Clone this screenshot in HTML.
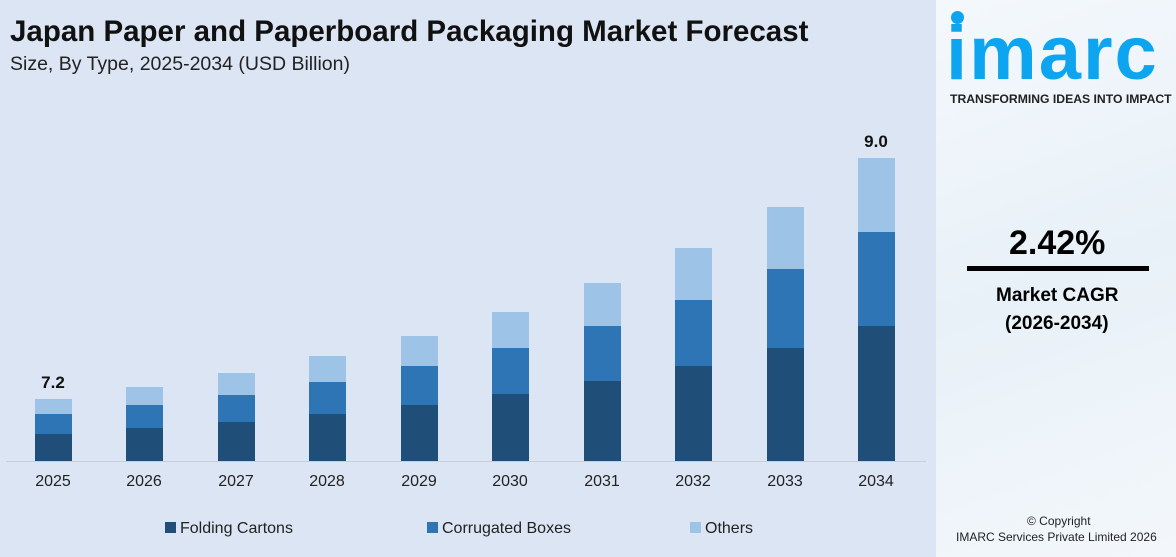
<!DOCTYPE html>
<html><head><meta charset="utf-8"><style>
body{margin:0;width:1176px;height:557px;overflow:hidden;font-family:"Liberation Sans",sans-serif;background:#dce5f3;position:relative}
.t{position:absolute;white-space:nowrap}
.bar{position:absolute;width:37px}
</style></head><body>
<div class="t" style="left:10px;top:15px;font-size:29.5px;font-weight:bold;color:#111">Japan Paper and Paperboard Packaging Market Forecast</div>
<div class="t" style="left:10px;top:53px;font-size:19.5px;color:#222">Size, By Type, 2025-2034 (USD Billion)</div>
<div style="position:absolute;left:6px;top:461px;width:920px;height:1px;background:#c8cfdb"></div>
<div id="bars"></div>
<div class="t" style="left:165px;top:520px;font-size:16px;color:#222"><span style="display:inline-block;width:11px;height:11px;background:#1f4e79;margin-right:4px"></span>Folding Cartons</div>
<div class="t" style="left:427px;top:520px;font-size:16px;color:#222"><span style="display:inline-block;width:11px;height:11px;background:#2e75b6;margin-right:4px"></span>Corrugated Boxes</div>
<div class="t" style="left:690px;top:520px;font-size:16px;color:#222"><span style="display:inline-block;width:11px;height:11px;background:#9dc3e6;margin-right:4px"></span>Others</div>
<div style="position:absolute;left:936px;top:0;width:240px;height:557px;background:linear-gradient(160deg,#f4f8fc,#e8f1f8 50%,#f3f7fb)"></div>
<div style="position:absolute;left:951px;top:11px;width:13px;height:13px;border-radius:50%;background:#0ea5f0"></div>
<div class="t" style="left:946px;top:14px;font-size:76px;font-weight:bold;color:#0ea5f0;letter-spacing:2px;line-height:80px">imarc</div>
<div class="t" style="left:950px;top:92px;font-size:12.2px;font-weight:bold;color:#222">TRANSFORMING IDEAS INTO IMPACT</div>
<div class="t" style="left:1009px;top:224px;font-size:34px;font-weight:bold;color:#000">2.42%</div>
<div style="position:absolute;left:967px;top:266px;width:182px;height:5px;background:#000"></div>
<div class="t" style="left:996px;top:285px;font-size:19px;font-weight:bold;color:#000">Market CAGR</div>
<div class="t" style="left:1005px;top:313px;font-size:19px;font-weight:bold;color:#000">(2026-2034)</div>
<div class="t" style="left:1027px;top:514px;font-size:12px;color:#222">© Copyright</div>
<div class="t" style="left:956px;top:530px;font-size:12px;color:#222">IMARC Services Private Limited 2026</div>
<script>
var d=[[2025,53,399,414,434],[2026,144,387,405,428],[2027,236,373,395,422],[2028,327,356,382,414],[2029,419,336,366,405],[2030,510,312,348,394],[2031,602,283,326,381],[2032,693,248,300,366],[2033,785,207,269,348],[2034,876,158,232,326]];
var h='';d.forEach(function(r){var x=r[1]-18.5;
h+='<div class="bar" style="left:'+x+'px;top:'+r[2]+'px;height:'+(r[3]-r[2])+'px;background:#9dc3e6"></div>';
h+='<div class="bar" style="left:'+x+'px;top:'+r[3]+'px;height:'+(r[4]-r[3])+'px;background:#2e75b6"></div>';
h+='<div class="bar" style="left:'+x+'px;top:'+r[4]+'px;height:'+(461-r[4])+'px;background:#1f4e79"></div>';
h+='<div class="t" style="left:'+(r[1]-30)+'px;width:60px;text-align:center;top:473px;font-size:16px;color:#222">'+r[0]+'</div>';});
h+='<div class="t" style="left:23px;width:60px;text-align:center;top:373px;font-size:17px;font-weight:bold;color:#111">7.2</div>';
h+='<div class="t" style="left:846px;width:60px;text-align:center;top:132px;font-size:17px;font-weight:bold;color:#111">9.0</div>';
document.getElementById('bars').innerHTML=h;
</script>
</body></html>
